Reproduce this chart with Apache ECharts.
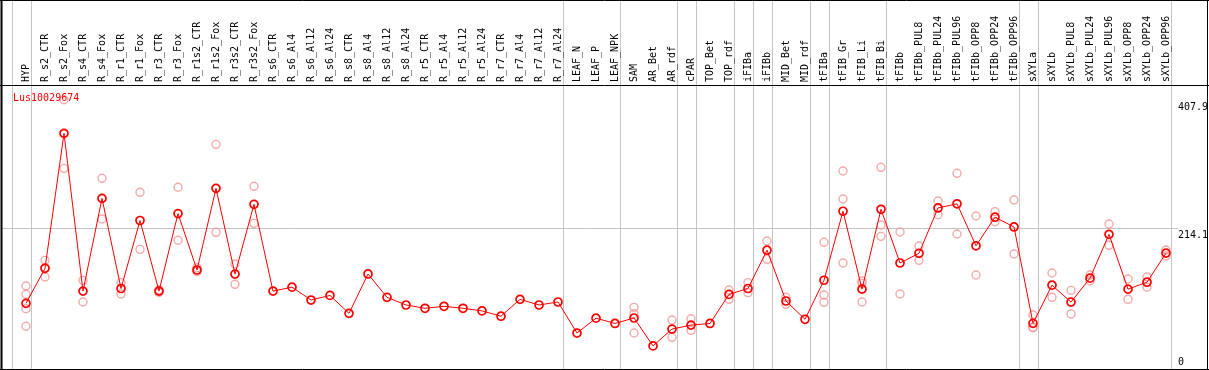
<!DOCTYPE html>
<html><head><meta charset="utf-8">
<script src="https://cdn.jsdelivr.net/npm/echarts@6/dist/echarts.min.js"></script>
<style>html,body{margin:0;padding:0;background:#fff}#c{width:1209px;height:370px}</style>
</head><body><div id="c"></div>
<script>
const chartTitle = 'Lus10029674';
const categories = ['HYP','R_s2_CTR','R_s2_Fox','R_s4_CTR','R_s4_Fox','R_r1_CTR','R_r1_Fox','R_r3_CTR','R_r3_Fox','R_r1s2_CTR','R_r1s2_Fox','R_r3s2_CTR','R_r3s2_Fox','R_s6_CTR','R_s6_Al4','R_s6_Al12','R_s6_Al24','R_s8_CTR','R_s8_Al4','R_s8_Al12','R_s8_Al24','R_r5_CTR','R_r5_Al4','R_r5_Al12','R_r5_Al24','R_r7_CTR','R_r7_Al4','R_r7_Al12','R_r7_Al24','LEAF_N','LEAF_P','LEAF_NPK','SAM','AR_Bet','AR_rdf','cPAR','TOP_Bet','TOP_rdf','iFIBa','iFIBb','MID_Bet','MID_rdf','tFIBa','tFIB_Gr','tFIB_Li','tFIB_Bi','tFIBb','tFIBb_PUL8','tFIBb_PUL24','tFIBb_PUL96','tFIBb_OPP8','tFIBb_OPP24','tFIBb_OPP96','sXYLa','sXYLb','sXYLb_PUL8','sXYLb_PUL24','sXYLb_PUL96','sXYLb_OPP8','sXYLb_OPP24','sXYLb_OPP96'];
const means = [99.5,152.5,357,118,258.5,122,225,118,235.5,150,273.7,143.8,249.5,118,124,104.5,111.5,84.3,144,108.6,97,92,95,92,88,80,105.5,97,101.5,54.5,77,69,77.3,35,60.5,66.5,69,113,122,180,103,75.3,134.5,239,121,242,160.6,175.3,244,250.3,186.7,230,215.2,69.2,127,101.4,137.6,204,121,131.5,175.6];
const replicates = [
 [125.8,113.2,91.4,64.7],[164.6,139.4,153.5],[407.9,304],[134.3,101.5],[288.9,227.3],[130.8,113.6],[267.7,181.3],[120,116],[275.3,195],[153.5,147.5],[340.4,207.1],[159.1,128.3],[276.8,220.7],
 [],[],[],[],[],[],[],[],[],[],[],[],[],[],[],[],[],[],[],
 [93.4,83.8,54.5],[],[74.2,48],[76.2,58.6],[],[119.7,105.6],[130.8,115.7],[193.9,166.2],[108.6,98],[],
 [192,112.1,101],[300,257.6,160.6],[133.3,129.8,101.5],[305.6,218.2,201],
 [207.6,113.6],[186.4,164.6],[254.5,233.8],[296.5,204.5],[231.8,142.4],[238.4,223.2],[256.1,174.2],
 [81.8,63.2,62.6],[145.5,108.6],[119.2,83.3],[142.4,133.8],[219.7,187.4],[136.4,105.6],[139.4,123.8],[180.3,171.2]
];
const yTickValues = [0, 214.1, 407.9];
const yTickLabels = ['0', '214.1', '407.9'];
const groupEnds = [-1,0,28,31,34,35,37,38,39,41,42,45,52,53,60];

const FONT = '"DejaVu Sans Mono", monospace';

const repData = [];
replicates.forEach((arr, i) => arr.forEach(v => repData.push([i, v])));

const chart = echarts.init(document.getElementById('c'), null, {renderer: 'canvas'});
chart.setOption({
  animation: false,
  backgroundColor: '#fff',
  title: {text: chartTitle, left: 8, top: 88, textStyle: {fontFamily: FONT, fontSize: 10, fontWeight: 'normal', color: '#ff0000'}},
  grid: {left: 16.5, right: 33.5, top: 85, bottom: 1, containLabel: false},
  xAxis: {
    type: 'category', data: categories, position: 'top', boundaryGap: true,
    axisLine: {show: false}, axisTick: {show: false}, splitLine: {show: false},
    axisLabel: {interval: 0, rotate: 90, margin: 3, fontFamily: FONT, fontSize: 10, color: '#000'}
  },
  yAxis: {
    type: 'value', min: 0, max: 430.3, position: 'right',
    axisLine: {show: false}, axisTick: {show: false}, splitLine: {show: false}, axisLabel: {show: false}
  },
  series: [
    {type: 'scatter', data: repData, symbol: 'circle', symbolSize: 8, z: 2,
     itemStyle: {color: 'rgba(0,0,0,0)', borderColor: '#f09595', borderWidth: 1.4}},
    {type: 'line', data: means, symbol: 'circle', symbolSize: 8, z: 3,
     lineStyle: {color: '#ff0000', width: 1},
     itemStyle: {color: 'rgba(0,0,0,0)', borderColor: '#ff0000', borderWidth: 1.7}}
  ]
});

const x0 = chart.convertToPixel({xAxisIndex: 0}, 0);
const bw = chart.convertToPixel({xAxisIndex: 0}, 1) - x0;
const yPix = v => chart.convertToPixel({yAxisIndex: 0}, v);
const W = 1209, B = 369;
const g = [];
const grey = {stroke: '#c4c4c4', lineWidth: 1};
groupEnds.forEach(i => {
  const x = Math.round(x0 + (i + 0.25) * bw) + 0.5;
  g.push({type: 'line', z: 0, silent: true, shape: {x1: x, y1: 0, x2: x, y2: B}, style: grey});
});
const ym = Math.round(yPix(214.1)) + 0.5;
g.push({type: 'line', z: 0, silent: true, shape: {x1: 1, y1: ym, x2: 1178, y2: ym}, style: grey});
// frame
const blk = {stroke: '#000', lineWidth: 1};
g.push({type: 'line', z: 10, shape: {x1: 0, y1: 0.5, x2: W, y2: 0.5}, style: blk});
g.push({type: 'line', z: 10, shape: {x1: 0, y1: 85.5, x2: W, y2: 85.5}, style: blk});
g.push({type: 'line', z: 10, shape: {x1: 0, y1: 369.5, x2: W, y2: 369.5}, style: blk});
g.push({type: 'line', z: 10, shape: {x1: 1.5, y1: 0, x2: 1.5, y2: 370}, style: {stroke: '#000', lineWidth: 2}});
g.push({type: 'line', z: 10, shape: {x1: 1207.5, y1: 0, x2: 1207.5, y2: 370}, style: blk});
yTickValues.forEach((v, k) => {
  const y = yPix(v);
  g.push({type: 'text', z: 5, x: 1178, y: v === 0 ? y - 2 : y + 3,
    style: {text: yTickLabels[k], fontFamily: FONT, fontSize: 10, fill: '#000',
            verticalAlign: v === 0 ? 'bottom' : 'top', align: 'left'}});
});
chart.setOption({graphic: g});
</script>
</body></html>
